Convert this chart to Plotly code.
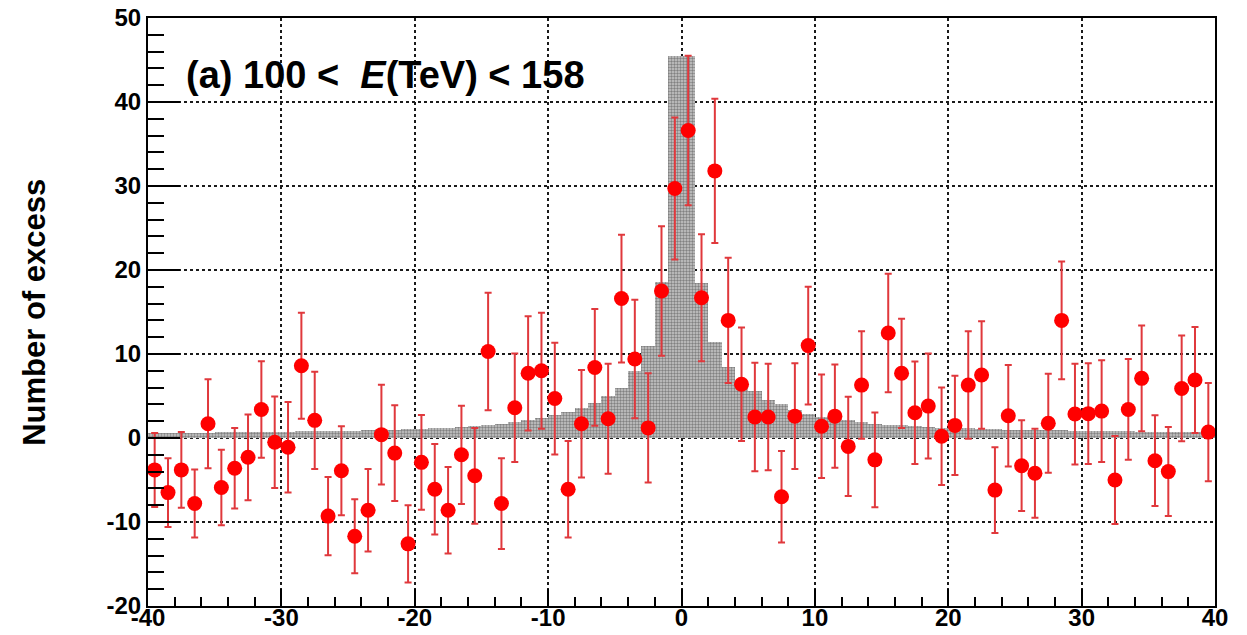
import plotly.graph_objects as go

# ---- data -------------------------------------------------------------
bin_low = list(range(-40, 40))                      # 1-unit bins from -40 to 40
x_centers = [b + 0.5 for b in bin_low]

# measured excess (red points)
excess = [-3.8, -6.5, -3.8, -7.8, 1.7, -5.9, -3.6, -2.3, 3.4, -0.5,
          -1.1, 8.6, 2.1, -9.3, -3.9, -11.7, -8.6, 0.4, -1.8, -12.6,
          -2.9, -6.1, -8.6, -2.0, -4.5, 10.3, -7.8, 3.6, 7.7, 8.0,
          4.7, -6.1, 1.7, 8.4, 2.3, 16.6, 9.4, 1.2, 17.5, 29.7,
          36.6, 16.7, 31.8, 14.0, 6.4, 2.5, 2.5, -7.0, 2.6, 11.0,
          1.4, 2.6, -1.0, 6.3, -2.6, 12.5, 7.7, 3.0, 3.8, 0.2,
          1.5, 6.3, 7.5, -6.2, 2.65, -3.3, -4.2, 1.75, 14.0, 2.85,
          2.9, 3.2, -5.0, 3.4, 7.1, -2.7, -4.0, 5.9, 6.9, 0.7]

errors = [4.4, 4.1, 4.5, 4.05, 5.3, 4.5, 4.8, 5.1, 5.75, 5.45,
          5.4, 6.3, 5.8, 4.65, 5.3, 4.4, 4.9, 5.95, 5.7, 4.6,
          5.65, 5.4, 5.15, 5.85, 5.7, 7.0, 5.4, 6.45, 6.8, 6.9,
          6.65, 5.75, 6.4, 6.95, 6.55, 7.6, 7.05, 6.5, 7.7, 8.45,
          8.9, 7.55, 8.6, 7.45, 6.75, 6.45, 6.35, 5.45, 6.3, 7.0,
          6.15, 6.15, 5.9, 6.4, 5.65, 7.05, 6.5, 6.1, 6.25, 5.8,
          5.9, 6.4, 6.4, 5.1, 6.05, 5.4, 5.3, 5.9, 7.0, 6.0,
          6.0, 6.05, 5.25, 6.0, 6.3, 5.4, 5.3, 6.3, 6.3, 5.85]

# expected (shaded histogram)
expected = [0.60, 0.61, 0.62, 0.63, 0.65, 0.66, 0.68, 0.70, 0.72, 0.74,
            0.76, 0.78, 0.80, 0.83, 0.86, 0.89, 0.92, 0.96, 1.00, 1.05,
            1.10, 1.20, 1.25, 1.35, 1.45, 1.55, 1.70, 1.90, 2.10, 2.40,
            2.70, 3.10, 3.60, 4.20, 5.00, 6.00, 8.00, 10.9, 18.6, 45.5,
            45.5, 18.5, 11.4, 8.4, 6.4, 5.6, 4.5, 4.0, 3.3, 2.9,
            2.5, 2.3, 2.1, 1.9, 1.7, 1.6, 1.5, 1.4, 1.3, 1.25,
            1.20, 1.15, 1.10, 1.05, 1.00, 0.98, 0.95, 0.92, 0.90, 0.87,
            0.85, 0.83, 0.80, 0.78, 0.76, 0.74, 0.72, 0.70, 0.68, 0.66]

x_ticks = [-40, -30, -20, -10, 0, 10, 20, 30, 40]
x_tick_labels = ["-40", "-30", "-20", "-10", "0", "10", "20", "30", "40"]
y_ticks = [-20, -10, 0, 10, 20, 30, 40, 50]
y_tick_labels = ["-20", "-10", "0", "10", "20", "30", "40", "50"]

# ---- figure -------------------------------------------------------------
FONT = "Liberation Sans, Arial, Helvetica, sans-serif"

fig = go.Figure()

fig.add_trace(go.Bar(
    x=x_centers, y=expected, width=1.0,
    marker=dict(color="#a0a0a0", line=dict(width=0),
                pattern=dict(shape=".", fgcolor="#3a3a3a", bgcolor="#c8c8c8",
                             size=3, solidity=0.5)),
    showlegend=False, hoverinfo="skip"))

fig.add_trace(go.Scatter(
    x=x_centers, y=excess, mode="markers",
    marker=dict(color="#ff0000", size=15, line=dict(width=0)),
    error_y=dict(type="data", array=errors, visible=True,
                 color="#e0383c", thickness=2, width=3.5),
    showlegend=False))

axis_common = dict(
    showline=True, linecolor="black", linewidth=2, mirror=True,
    ticks="inside", tickcolor="black", tickwidth=1.5,
    showgrid=True, gridcolor="#1a1a1a", griddash="dot", gridwidth=1.5,
    zeroline=False, automargin=False, ticklabeloverflow="allow",
    tickfont=dict(family=FONT, size=24, color="black", weight="bold"),
)

fig.update_xaxes(range=[-40, 40], tickvals=x_ticks, ticktext=x_tick_labels,
                 ticklen=17, ticklabelstandoff=-11,
                 minor=dict(dtick=2, ticklen=9, ticks="inside",
                            tickcolor="black", tickwidth=1.5, showgrid=False),
                 **axis_common)
fig.update_yaxes(range=[-20, 50], tickvals=y_ticks, ticktext=y_tick_labels,
                 ticklen=32,
                 minor=dict(dtick=2, ticklen=16, ticks="inside",
                            tickcolor="black", tickwidth=1.5, showgrid=False),
                 **axis_common)

fig.add_annotation(
    xref="paper", yref="paper", x=-0.107, y=0.50,
    text="Number of excess", textangle=-90, showarrow=False,
    xanchor="center", yanchor="middle",
    font=dict(family=FONT, size=31, color="black", weight="bold"))

fig.add_annotation(
    xref="x", yref="y", x=-37.3, y=43.2,
    text="(a) 100 <  <i>E</i>(TeV) < 158", showarrow=False,
    xanchor="left", yanchor="middle",
    font=dict(family=FONT, size=38, color="black", weight="bold"))

fig.update_layout(
    width=1247, height=635,
    margin=dict(l=148, r=32, t=18, b=29),
    paper_bgcolor="white", plot_bgcolor="white",
    bargap=0, barmode="overlay",
)

# remove the default page margin so the figure fills the window exactly
fig.write_html("out.html",
               config={"displayModeBar": False},
               post_script="document.body.style.margin='0px';"
                           "document.body.style.overflow='hidden';")
